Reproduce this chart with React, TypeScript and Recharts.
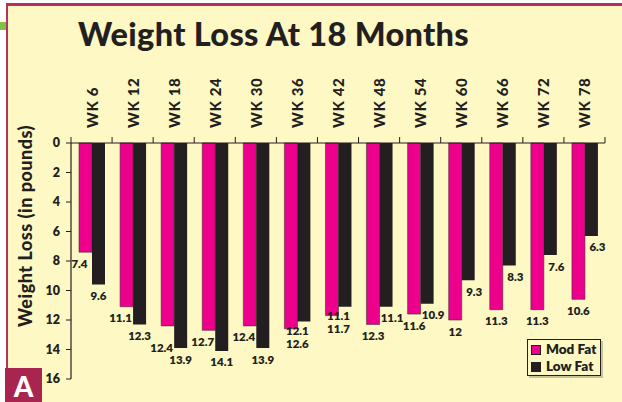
import React from "react";
import {
  BarChart,
  Bar,
  XAxis,
  YAxis,
  LabelList,
} from "recharts";

// weeks on the study
const weeks = ["WK 6", "WK 12", "WK 18", "WK 24", "WK 30", "WK 36", "WK 42", "WK 48", "WK 54", "WK 60", "WK 66", "WK 72", "WK 78"];
// pounds lost per group
const modFat = [7.4, 11.1, 12.4, 12.7, 12.4, 12.6, 11.7, 12.3, 11.6, 12, 11.3, 11.3, 10.6];
const lowFat = [9.6, 12.3, 13.9, 14.1, 13.9, 12.1, 11.1, 11.1, 10.9, 9.3, 8.3, 7.6, 6.3];
const yTicks = [0, 2, 4, 6, 8, 10, 12, 14, 16];
const seriesNames = ["Mod Fat", "Low Fat"];

const data = weeks.map((wk, i) => ({ wk, mod: modFat[i], low: lowFat[i] }));

const FONT = "Lato, 'Open Sans', sans-serif";
const CREAM = "#FEF8C4";
const PINK = "#EC008C";
const BLACK = "#231F20";
const INK = "#231F20";

const W = 622;
const H = 402;
const PLOT_L = 71;
const PLOT_R = 605;
const BAND = (PLOT_R - PLOT_L) / weeks.length;
const PX_PER_LB = (379 - 143) / 16;

// rotated week label plus tick marks at the category edges
const WeekTick = (props: any) => {
  const { x, payload, index } = props;
  return (
    <g>
      <line x1={x - BAND / 2} x2={x - BAND / 2} y1={143} y2={137} stroke={INK} strokeWidth={1} />
      {index === weeks.length - 1 && (
        <line x1={x + BAND / 2} x2={x + BAND / 2} y1={143} y2={137} stroke={INK} strokeWidth={1} />
      )}
      <text
        x={x + 6}
        y={128}
        transform={`rotate(-90 ${x + 6} 128)`}
        textAnchor="start"
        fontFamily={FONT}
        fontWeight={900}
        fontSize={15}
        letterSpacing={0.6}
        fill={INK}
      >
        {payload.value}
      </text>
    </g>
  );
};

const barEnd = (y: number, height: number) => Math.max(y, y + height);

// labels sit under the bar end. the shorter bar's label is nudged outward;
// nearly equal pairs get stacked under the middle of the group
const makeLabel = (isMod: boolean) => (props: any) => {
  const { x, y, width, height, value, index } = props;
  const end = barEnd(y, height);
  const mine = isMod ? modFat[index] : lowFat[index];
  const other = isMod ? lowFat[index] : modFat[index];
  const longer = mine >= other;
  const diff = Math.abs(mine - other);
  let cy = end + 11;
  let dx = 0;
  if (diff < 0.65) {
    dx = isMod ? width / 2 : -width / 2;
    if (longer) {
      const otherEnd = end - diff * PX_PER_LB;
      cy = Math.max(cy, otherEnd + 9 + 13);
    } else {
      cy = end + 9;
    }
  } else if (!longer) {
    dx = isMod ? -6 : 6;
    if (isMod && index > 0 && Math.abs(mine - lowFat[index - 1]) < 1) cy += 11;
  }
  return (
    <text
      x={x + width / 2 + dx}
      y={cy}
      textAnchor="middle"
      dominantBaseline="central"
      fontFamily={FONT}
      fontWeight={800}
      fontSize={11.5}
      fill={INK}
    >
      {value}
    </text>
  );
};

const ModLabel = makeLabel(true);
const LowLabel = makeLabel(false);

export default function App() {
  return (
    <div
      style={{
        position: "absolute",
        left: 0,
        top: 0,
        width: W,
        height: H,
        background: "#fff",
        overflow: "hidden",
        fontFamily: FONT,
      }}
    >
      {/* cream panel with magenta frame */}
      <div
        style={{
          position: "absolute",
          left: 6,
          top: 3,
          right: 0,
          bottom: 0,
          background: CREAM,
          borderTop: "3px solid #B8305C",
          borderLeft: "2px solid #B8305C",
        }}
      />
      <div style={{ position: "absolute", left: 0, top: 22, width: 6, height: 8, background: "#7DC242" }} />
      <div
        style={{
          position: "absolute",
          left: 78,
          top: 14,
          fontSize: 32.5,
          fontWeight: 900,
          color: INK,
          letterSpacing: 0.3,
          whiteSpace: "nowrap",
        }}
      >
        Weight Loss At 18 Months
      </div>

      <div style={{ position: "absolute", left: 0, top: 0 }}>
        <BarChart
          width={W}
          height={H}
          data={data}
          margin={{ top: 63, right: 17, bottom: 23, left: 31 }}
          barSize={13}
          barGap={0}
        >
          <XAxis
            dataKey="wk"
            orientation="top"
            height={80}
            axisLine={{ stroke: INK, strokeWidth: 1.2 }}
            tickLine={false}
            tick={<WeekTick />}
            interval={0}
          />
          <XAxis
            xAxisId="frame"
            dataKey="wk"
            orientation="bottom"
            height={0}
            axisLine={{ stroke: "#8C8A6A", strokeWidth: 2 }}
            tick={false}
            tickLine={false}
          />
          <YAxis
            reversed
            domain={[0, 16]}
            ticks={yTicks}
            interval={0}
            width={40}
            tickSize={5}
            tickMargin={6}
            axisLine={{ stroke: INK, strokeWidth: 1.2 }}
            tickLine={{ stroke: INK }}
            tick={{ fontFamily: FONT, fontWeight: 800, fontSize: 12.5, fill: INK }}
            label={{
              content: () => (
                <text
                  x={25}
                  y={226}
                  transform="rotate(-90 25 226)"
                  textAnchor="middle"
                  dominantBaseline="central"
                  fontFamily={FONT}
                  fontWeight={900}
                  fontSize={18}
                  letterSpacing={0.5}
                  fill={INK}
                >
                  Weight Loss (in pounds)
                </text>
              ),
            }}
          />
          <YAxis
            yAxisId="frame"
            orientation="right"
            width={0}
            domain={[0, 16]}
            tick={false}
            tickLine={false}
            axisLine={{ stroke: "#8C8A6A", strokeWidth: 2 }}
          />
          <Bar dataKey="mod" name={seriesNames[0]} fill={PINK} stroke="#4a2a35" strokeWidth={0.6} isAnimationActive={false}>
            <LabelList dataKey="mod" content={<ModLabel />} />
          </Bar>
          <Bar dataKey="low" name={seriesNames[1]} fill={BLACK} isAnimationActive={false}>
            <LabelList dataKey="low" content={<LowLabel />} />
          </Bar>
        </BarChart>
      </div>

      {/* legend */}
      <div
        style={{
          position: "absolute",
          left: 527,
          top: 339,
          width: 74,
          height: 37,
          border: "1px solid " + INK,
          boxShadow: "2px 2px 0 #C8C49A",
          background: CREAM,
          fontSize: 13.5,
          fontWeight: 800,
          color: INK,
          padding: "1px 0 0 3px",
          boxSizing: "border-box",
          lineHeight: "17px",
        }}
      >
        {seriesNames.map((n, i) => (
          <div key={n} style={{ display: "flex", alignItems: "center" }}>
            <span
              style={{
                display: "inline-block",
                width: 8,
                height: 8,
                background: i === 0 ? PINK : BLACK,
                border: "1px solid " + INK,
                marginRight: 5,
              }}
            />
            {n}
          </div>
        ))}
      </div>

      {/* panel badge */}
      <div
        style={{
          position: "absolute",
          left: 5,
          top: 368,
          width: 37,
          height: 34,
          background: "#A8254F",
          color: "#fff",
          fontSize: 28,
          fontWeight: 900,
          textAlign: "center",
          lineHeight: "36px",
        }}
      >
        A
      </div>
    </div>
  );
}
